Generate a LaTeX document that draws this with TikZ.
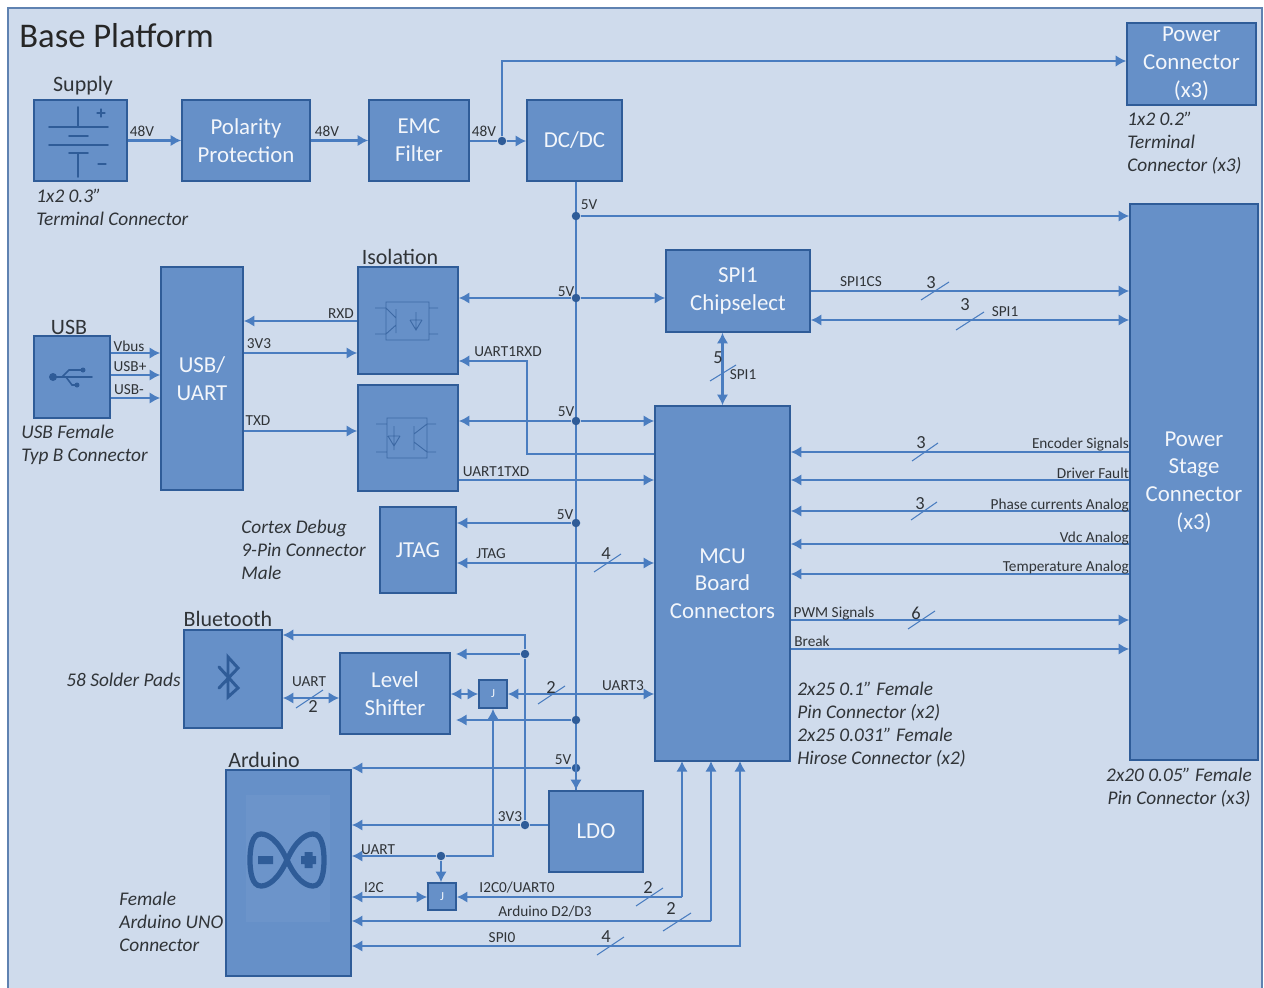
\documentclass[tikz,border=0pt]{standalone}
\usepackage{fontspec}
\setmainfont{Carlito}
\usetikzlibrary{arrows.meta}
\definecolor{panel}{HTML}{CFDBEC}
\definecolor{boxfill}{HTML}{6690C8}
\definecolor{boxline}{HTML}{2F5C98}
\definecolor{wirecol}{HTML}{4A7DC0}
\definecolor{inktext}{HTML}{303438}
\tikzset{
  >={Latex[length=6pt,width=6.5pt]},
  block/.style={draw=boxline,fill=boxfill,line width=0.9pt,inner sep=0pt,text=white!92!boxfill,align=center,font=\fontsize{13}{15.8}\selectfont},
  wire/.style={draw=wirecol,line width=1.25pt},
  bus/.style={draw=wirecol,line width=0.8pt},
  dot/.style={circle,fill=boxline,inner sep=0pt,minimum size=0.17cm},
  slash/.style={draw=wirecol,line width=0.6pt},
  tag/.style={inner sep=0pt,text=inktext,font=\fontsize{8.7}{10}\selectfont},
  num/.style={inner sep=0pt,text=inktext,font=\fontsize{10.5}{12}\selectfont},
  note/.style={inner sep=0pt,text=inktext,align=left,font=\fontsize{11}{13.1}\itshape\selectfont},
  head/.style={inner sep=0pt,text=inktext,font=\fontsize{12.5}{15}\selectfont},
  icon/.style={draw=boxline!75!boxfill,line width=0.5pt},
  rune/.style={draw=boxline,line width=1.7pt,line cap=round},
}
\begin{document}
\begin{tikzpicture}[x=0.02cm,y=-0.02cm]
\useasboundingbox (0,0) rectangle (1264,987);
\fill[white] (0,0) rectangle (1264,987);
\draw[fill=panel,draw=boxline!70!panel,line width=0.9pt] (8,8) rectangle (1262,992);
\node[inner sep=0pt,anchor=west,text=black!85,font=\fontsize{19.7}{22}\selectfont] (title) at (19,36) {Base Platform};

% blocks
\node[block,minimum width=1.86cm,minimum height=1.62cm] (supply) at (80.5,140.5) {};
\node[block,minimum width=2.56cm,minimum height=1.62cm] (polarity) at (246,140.5) {Polarity\\Protection};
\node[block,minimum width=2cm,minimum height=1.62cm] (emc) at (419,140.5) {EMC\\Filter};
\node[block,minimum width=1.9cm,minimum height=1.62cm] (dcdc) at (574.5,140.5) {DC/DC};
\node[block,minimum width=2.58cm,minimum height=1.64cm] (pwrconn) at (1191.5,64) {Power\\Connector\\(x3)};
\node[block,minimum width=2.56cm,minimum height=11.12cm] (stage) at (1194,482) {Power\\Stage\\Connector\\(x3)};
\node[block,minimum width=2.88cm,minimum height=1.64cm] (chipsel) at (738,291) {SPI1\\Chipselect};
\node[block,minimum width=2.7cm,minimum height=7.1cm] (mcu) at (722.5,583.5) {MCU\\Board\\Connectors};
\node[block,minimum width=1.64cm,minimum height=4.46cm] (usbuart) at (202,378.5) {USB/\\UART};
\node[block,minimum width=2cm,minimum height=2.14cm] (isoa) at (408,320.5) {};
\node[block,minimum width=2cm,minimum height=2.12cm] (isob) at (408,438) {};
\node[block,minimum width=1.52cm,minimum height=1.64cm] (usb) at (72,377) {};
\node[block,minimum width=1.52cm,minimum height=1.72cm] (jtag) at (418,550) {JTAG};
\node[block,minimum width=1.96cm,minimum height=1.96cm] (bt) at (233,679) {};
\node[block,minimum width=2.2cm,minimum height=1.62cm] (level) at (395,693.5) {Level\\Shifter};
\node[block,minimum width=0.56cm,minimum height=0.56cm,font=\fontsize{7}{8}\selectfont] (jmpa) at (493,694) {J};
\node[block,minimum width=2.5cm,minimum height=4.12cm] (arduino) at (288.5,873) {};
\node[block,minimum width=1.88cm,minimum height=1.62cm] (ldo) at (596,831.5) {LDO};
\node[block,minimum width=0.56cm,minimum height=0.54cm,font=\fontsize{7}{8}\selectfont] (jmpb) at (442,896.5) {J};

% icons
\draw[rune,line width=0.9pt] (78,107) -- (78,127) (49,127) -- (108,127) (69,136) -- (88,136) (49,145) -- (108,145) (69,153) -- (88,153) (78,153) -- (78,177);
\draw[rune,line width=0.6pt] (97,113) -- (105,113) (101,109) -- (101,117) (98,164) -- (106,164);
\draw[rune,line width=0.9pt] (53,377) -- (92,377) (62,377) -- (69,370) -- (82,370) (66,377) -- (72,385) -- (77,385);
\fill[boxline] (53,377) circle (4) (83,370) circle (2.5) (77,385) circle (2.5);
\draw[icon] (386,302) rectangle (429,340) (375,308) -- (386,308) (375,334) -- (386,334) (429,308) -- (438,308) (429,334) -- (438,334)
  (396,309) -- (396,333) (396,318) -- (386,308) (396,325) -- (386,334) (416,312) -- (416,330) (410,320) -- (422,320) (410,320) -- (416,330) -- (422,320);
\draw[icon] (387,418) rectangle (427,458) (376,424) -- (387,424) (376,452) -- (387,452) (427,424) -- (436,424) (427,452) -- (436,452)
  (414,426) -- (414,450) (414,434) -- (427,424) (414,442) -- (427,452) (394,426) -- (394,450) (388,436) -- (400,436) (388,436) -- (394,446) -- (400,436);
\draw[rune] (219,667) -- (238,688) -- (228,697) -- (228,657) -- (238,668) -- (219,688);
\fill[boxfill!96!white] (246,795) rectangle (330,922);
\draw[boxline,line width=3pt] (287,860) .. controls (278,840) and (268,834) .. (261,834) .. controls (252,834) and (250,848) .. (250,860) .. controls (250,872) and (252,886) .. (261,886) .. controls (268,886) and (278,880) .. (287,860) .. controls (296,840) and (306,834) .. (313,834) .. controls (322,834) and (324,848) .. (324,860) .. controls (324,872) and (322,886) .. (313,886) .. controls (306,886) and (296,880) .. (287,860) -- cycle;
\fill[boxline] (258,856) rectangle (273,864) (301,856) rectangle (316,864) (304.5,852) rectangle (312.5,868);

% power rail
\coordinate (rail) at (576,0);
\draw[bus] (rail |- dcdc.south) -- (rail |- ldo.north);
\node[dot] (nin) at (502,141) {};
\node[dot] (nstage) at (rail |- 0,216) {};
\node[dot] (nisoa) at (rail |- 0,298) {};
\node[dot] (nisob) at (rail |- 0,421) {};
\node[dot] (njtag) at (rail |- 0,523) {};
\node[dot] (nlevel) at (rail |- 0,720) {};
\node[dot] (nardu) at (rail |- 0,768) {};
\node[dot] (nldo) at (525,825) {};
\node[dot] (nthree) at (525,654) {};
\node[dot] (nuart) at (441,856) {};
\coordinate (lvltop) at (456,654);
\coordinate (lvlbot) at (456,720);

% 48V and 5V
\draw[wire,->] (supply) -- (polarity);
\draw[wire,->] (polarity) -- (emc);
\draw[wire] (emc.east |- nin) -- (nin);
\draw[wire,->] (nin) -- (dcdc.west |- nin);
\draw[bus,->] (nin) |- (pwrconn.west |- 0,61);
\draw[wire,->] (nstage) -- (stage.west |- nstage);
\draw[wire,->] (nisoa) -- (isoa.east |- nisoa);
\draw[wire,->] (nisoa) -- (chipsel.west |- nisoa);
\draw[wire,->] (nisob) -- (isob.east |- nisob);
\draw[wire,->] (nisob) -- (mcu.west |- nisob);
\draw[wire,->] (njtag) -- (jtag.east |- njtag);
\draw[wire,->] (nlevel) -- (lvlbot);
\draw[wire,->] (nardu) -- (arduino.north east |- nardu);
\draw[wire,->] (rail |- 0,745) -- (rail |- ldo.north);
\draw[wire] (ldo.west |- nldo) -- (nldo);
\draw[wire,->] (nldo) -- (arduino.east |- nldo);
\draw[bus,->] (nldo) -- (nthree) -- (525,635) -- (bt.east |- 0,635);
\draw[wire,->] (nthree) -- (lvltop);

% USB and isolation
\draw[wire,->] (usb.east |- 0,353) -- (usbuart.west |- 0,353);
\draw[wire,->] (usb.east |- 0,375) -- (usbuart.west |- 0,375);
\draw[wire,->] (usb.east |- 0,398) -- (usbuart.west |- 0,398);
\draw[wire,->] (isoa.west |- 0,321) -- (usbuart.east |- 0,321);
\draw[wire,->] (usbuart.east |- 0,353) -- (isoa.west |- 0,353);
\draw[wire,->] (usbuart.east |- 0,431) -- (isob.west |- 0,431);
\draw[bus,->] (mcu.west |- 0,454) -- (527,454) -- (527,361) -- (isoa.east |- 0,361);
\draw[wire,->] (isob.east |- 0,480) -- (mcu.west |- 0,480);

% MCU and power stage
\draw[wire,<->] (jtag.east |- 0,563) -- (mcu.west |- 0,563);
\draw[wire,->] (chipsel.east |- 0,291) -- (stage.west |- 0,291);
\draw[wire,<->] (chipsel.east |- 0,320) -- (stage.west |- 0,320);
\draw[wire,<->] (chipsel.south -| mcu.north) -- (mcu.north);
\draw[wire,->] (stage.west |- 0,452) -- (mcu.east |- 0,452);
\draw[wire,->] (stage.west |- 0,480) -- (mcu.east |- 0,480);
\draw[wire,->] (stage.west |- 0,511) -- (mcu.east |- 0,511);
\draw[wire,->] (stage.west |- 0,544) -- (mcu.east |- 0,544);
\draw[wire,->] (stage.west |- 0,574) -- (mcu.east |- 0,574);
\draw[wire,->] (mcu.east |- 0,620) -- (stage.west |- 0,620);
\draw[wire,->] (mcu.east |- 0,649) -- (stage.west |- 0,649);

% lower left
\draw[wire,<->] (bt.east |- 0,698) -- (level.west |- 0,698);
\draw[wire,<->] (level.east |- jmpa) -- (jmpa);
\draw[wire,<->] (jmpa) -- (mcu.west |- jmpa);
\draw[wire,->] (nuart) -- (arduino.east |- nuart);
\draw[wire,->] (nuart) -| (jmpa.south);
\draw[wire,->] (nuart) -- (jmpb.north -| nuart);
\draw[wire,<->] (arduino.east |- 0,897) -- (jmpb.west |- 0,897);
\draw[wire,->] (682,897) -- (jmpb.east |- 0,897);
\draw[wire,->] (682,897) -- (682,761);
\draw[wire,->] (711,921) -- (arduino.east |- 0,921);
\draw[wire,->] (711,921) -- (711,761);
\draw[wire,<->] (arduino.east |- 0,946) -- (740,946) -- (740,761);

% bus widths
\draw[slash] (921,300) -- (949,282);
\draw[slash] (956,330) -- (984,312);
\draw[slash] (710,381) -- (736,365);
\draw[slash] (912,461) -- (938,443);
\draw[slash] (911,520) -- (937,502);
\draw[slash] (908,629) -- (935,611);
\draw[slash] (594,572) -- (621,554);
\draw[slash] (538,704) -- (565,686);
\draw[slash] (296,708) -- (323,690);
\draw[slash] (636,906) -- (663,888);
\draw[slash] (663,931) -- (691,913);
\draw[slash] (597,955) -- (624,937);
\node[num] (wa) at (931,283) {3};
\node[num] (wb) at (965,305) {3};
\node[num] (wc) at (718,358) {5};
\node[num] (wd) at (921,443) {3};
\node[num] (we) at (920,504) {3};
\node[num] (wf) at (916,613) {6};
\node[num] (wg) at (606,554) {4};
\node[num] (wh) at (551,688) {2};
\node[num] (wi) at (313,707) {2};
\node[num] (wj) at (648,888) {2};
\node[num] (wk) at (671,909) {2};
\node[num] (wl) at (606,937) {4};

% wire labels
\node[tag] (ta) at (142,131) {48V};
\node[tag] (tb) at (327,131) {48V};
\node[tag] (tc) at (484,131) {48V};
\node[tag] (td) at (589,205) {5V};
\node[tag] (te) at (566,292) {5V};
\node[tag] (tf) at (566,412) {5V};
\node[tag] (tg) at (565,515) {5V};
\node[tag] (th) at (563,760) {5V};
\node[tag] (ti) at (510,817) {3V3};
\node[tag] (tj) at (341,314) {RXD};
\node[tag] (tk) at (259,344) {3V3};
\node[tag] (tl) at (258,421) {TXD};
\node[tag] (tm) at (129,346) {Vbus};
\node[tag] (tn) at (130,367) {USB+};
\node[tag] (to) at (129,390) {USB-};
\node[tag] (tp) at (508,352) {UART1RXD};
\node[tag] (tq) at (496,472) {UART1TXD};
\node[tag] (tr) at (491,554) {JTAG};
\node[tag] (ts) at (861,282) {SPI1CS};
\node[tag] (tt) at (1005,312) {SPI1};
\node[tag] (tu) at (743,375) {SPI1};
\node[tag,anchor=east] (tv) at (stage.west |- 0,445) {Encoder Signals};
\node[tag,anchor=east] (tw) at (stage.west |- 0,473) {Driver Fault};
\node[tag,anchor=east] (tx) at (stage.west |- 0,505) {Phase currents Analog};
\node[tag,anchor=east] (ty) at (stage.west |- 0,538) {Vdc Analog};
\node[tag,anchor=east] (tz) at (stage.west |- 0,567) {Temperature Analog};
\node[tag] (sa) at (834,613) {PWM Signals};
\node[tag] (sb) at (812,641) {Break};
\node[tag] (sc) at (623,686) {UART3};
\node[tag] (sd) at (309,682) {UART};
\node[tag] (se) at (378,850) {UART};
\node[tag] (sf) at (374,888) {I2C};
\node[tag] (sg) at (517,888) {I2C0/UART0};
\node[tag] (sh) at (545,912) {Arduino D2/D3};
\node[tag] (si) at (502,938) {SPI0};

% headings and connector notes
\node[head] (hsupply) at (83,86) {Supply};
\node[head] (husb) at (69,327) {USB};
\node[head] (hiso) at (400,257) {Isolation};
\node[head] (hbt) at (228,619) {Bluetooth};
\node[head] (hardu) at (264,760) {Arduino};
\node[note,anchor=west] (nsupply) at (36,207.5) {1x2 0.3"\\Terminal Connector};
\node[note,anchor=west] (npwr) at (1127,143) {1x2 0.2"\\Terminal\\Connector (x3)};
\node[note,anchor=west] (nusb) at (21,444.5) {USB Female\\Typ B Connector};
\node[note,anchor=west] (ndebug) at (241,550) {Cortex Debug\\9-Pin Connector\\Male};
\node[note,anchor=west] (npads) at (66,680) {58 Solder Pads};
\node[note,anchor=west] (nuno) at (119,921.5) {Female\\Arduino UNO\\Connector};
\node[note,anchor=west] (nmcu) at (797,725) {2x25 0.1" Female\\Pin Connector (x2)\\2x25 0.031" Female\\Hirose Connector (x2)};
\node[note,align=center] (nstagep) at (1179,788) {2x20 0.05" Female\\Pin Connector (x3)};
\end{tikzpicture}
\end{document}
